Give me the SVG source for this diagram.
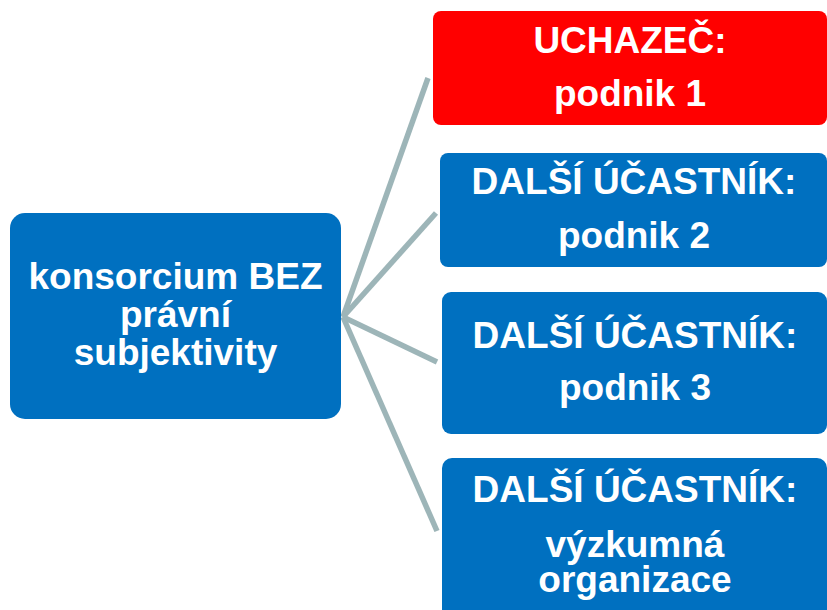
<svg xmlns="http://www.w3.org/2000/svg" width="827" height="610" viewBox="0 0 827 610">
<style>
.blue{fill:#0070C0}
.red{fill:#FF0000}
.t{font-family:"Liberation Sans",Arial,sans-serif;font-weight:bold;font-size:37px;fill:#FFFFFF;text-anchor:middle}
.c{stroke:#9DB5B8;stroke-width:5.5;fill:none;stroke-linecap:butt}
</style>
<rect width="827" height="610" fill="#FFFFFF"/>
<g id="connectors">
<line class="c" x1="343" y1="317" x2="428" y2="78"/>
<line class="c" x1="343" y1="317" x2="436" y2="213"/>
<line class="c" x1="343" y1="317" x2="437" y2="362"/>
<line class="c" x1="343" y1="317" x2="437" y2="531"/>
</g>
<g id="hub">
<rect class="blue" x="10" y="213" width="331" height="206" rx="15"/>
<text class="t" x="175.5" y="289">konsorcium BEZ</text>
<text class="t" x="175.5" y="327">právní</text>
<text class="t" x="175.5" y="365">subjektivity</text>
</g>
<g id="uchazec">
<rect class="red" x="433" y="11" width="394" height="114" rx="8"/>
<text class="t" x="630" y="53">UCHAZEČ:</text>
<text class="t" x="630" y="106">podnik 1</text>
</g>
<g id="ucastnik2">
<rect class="blue" x="440" y="153" width="387" height="114" rx="8"/>
<text class="t" x="634" y="194">DALŠÍ ÚČASTNÍK:</text>
<text class="t" x="634" y="248">podnik 2</text>
</g>
<g id="ucastnik3">
<rect class="blue" x="442" y="292" width="385" height="142" rx="9"/>
<text class="t" x="635" y="348">DALŠÍ ÚČASTNÍK:</text>
<text class="t" x="635" y="400">podnik 3</text>
</g>
<g id="ucastnik4">
<rect class="blue" x="442" y="458" width="385" height="162" rx="10"/>
<text class="t" x="635" y="502">DALŠÍ ÚČASTNÍK:</text>
<text class="t" x="635" y="557">výzkumná</text>
<text class="t" x="635" y="592">organizace</text>
</g>
</svg>
